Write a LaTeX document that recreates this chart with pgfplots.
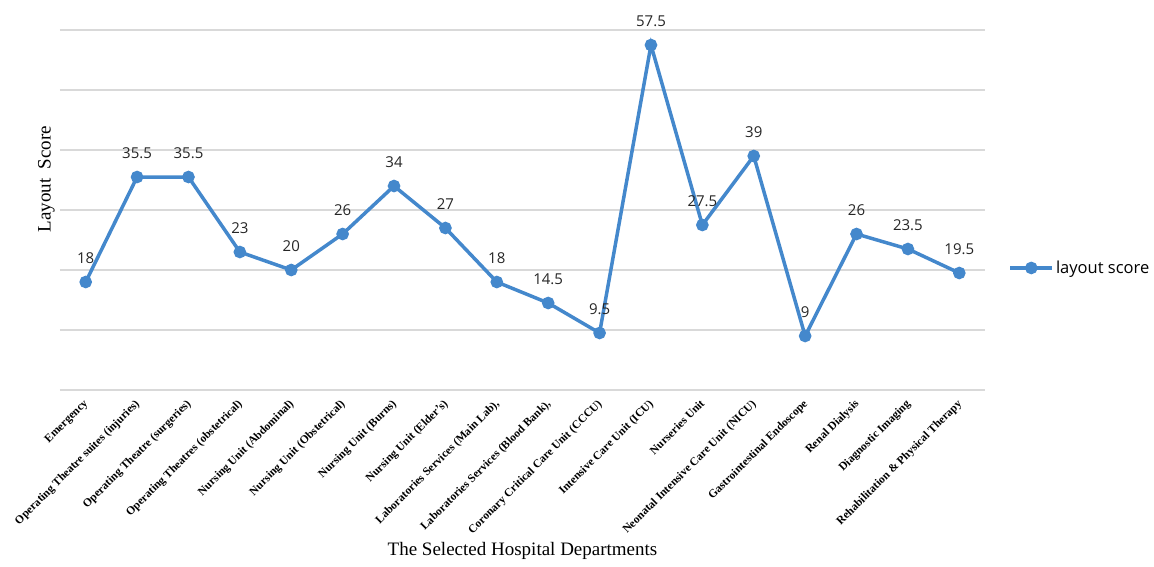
\documentclass[border=0pt]{standalone}
\usepackage{fontspec}
\setmainfont{Liberation Serif}
\newfontfamily\opensans{Open Sans}
\usepackage{pgfplots}
\pgfplotsset{compat=1.18}
\definecolor{lineblue}{RGB}{68,136,204}
\definecolor{gridgray}{RGB}{217,217,217}

\begin{document}
\begin{tikzpicture}
\useasboundingbox (-60pt,-176pt) rectangle (1094pt,390pt);
\begin{axis}[
    scale only axis,
    width=925pt, height=360pt,
    xmin=-0.5, xmax=17.5,
    ymin=0, ymax=60,
    ytick={0,10,...,60}, yticklabels={},
    ymajorgrids,
    grid style={gridgray, line width=1.5pt},
    axis line style={draw=none},
    tick style={draw=none},
    xtick={0,...,17},
    xticklabels={
        Emergency,
        Operating Theatre suites (injuries),
        Operating Theatre (surgeries),
        Operating Theatres (obstetrical),
        Nursing Unit (Abdominal),
        Nursing Unit (Obstetrical),
        Nursing Unit (Burns),
        Nursing Unit (Elder’s),
        {Laboratories Services (Main Lab),},
        {Laboratories Services (Blood Bank),},
        Coronary Critical Care Unit (CCCU),
        Intensive Care Unit (ICU),
        Nurseries Unit,
        Neonatal Intensive Care Unit (NICU),
        Gastrointestinal Endoscope,
        Renal Dialysis,
        Diagnostic Imaging,
        Rehabilitation \& Physical Therapy},
    x tick label style={font=\fontsize{11.5}{11.5}\selectfont\bfseries,
        rotate=45, anchor=north east, inner sep=1pt,
        xshift=-7pt, yshift=-3pt},
    xlabel={The Selected Hospital Departments},
    xlabel style={font=\fontsize{19}{19}\selectfont,
        at={(axis description cs:0.5,-0.447)}, anchor=center},
    ylabel={Layout\ \ Score},
    ylabel style={font=\fontsize{19}{19}\selectfont,
        at={(axis description cs:-0.002,0.586)}, anchor=south},
    legend style={draw=none, fill=none,
        at={(axis description cs:1.022,0.339)}, anchor=west,
        font=\opensans\fontsize{16.5}{16.5}\selectfont},
    legend image code/.code={
        \draw[mark repeat=2, mark phase=2, #1]
        plot coordinates {(0pt,0pt) (21pt,0pt) (42pt,0pt)};},
    nodes near coords,
    point meta=explicit symbolic,
    every node near coord/.append style={
        font=\opensans\fontsize{15}{15}\selectfont,
        anchor=base, yshift=19pt, text=black!85},
]
\addplot[lineblue, line width=3.5pt, mark=*, mark size=4.5pt,
    mark options={solid, fill=lineblue}]
coordinates {
    (0,18) [18]
    (1,35.5) [35.5]
    (2,35.5) [35.5]
    (3,23) [23]
    (4,20) [20]
    (5,26) [26]
    (6,34) [34]
    (7,27) [27]
    (8,18) [18]
    (9,14.5) [14.5]
    (10,9.5) [9.5]
    (11,57.5) [57.5]
    (12,27.5) [27.5]
    (13,39) [39]
    (14,9) [9]
    (15,26) [26]
    (16,23.5) [23.5]
    (17,19.5) [19.5]
};
\addlegendentry{layout score}
\end{axis}
\end{tikzpicture}
\end{document}
